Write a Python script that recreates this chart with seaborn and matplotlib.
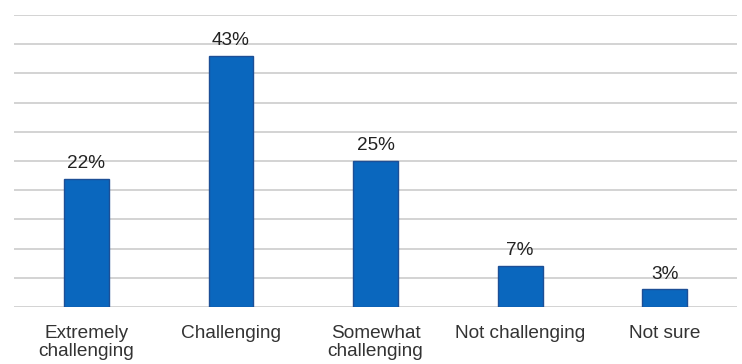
import matplotlib
matplotlib.use("Agg")
import matplotlib.pyplot as plt
import seaborn as sns
import numpy as np

categories = ["Extremely\nchallenging", "Challenging", "Somewhat\nchallenging", "Not challenging", "Not sure"]
values = [22, 43, 25, 7, 3]
labels = ["22%", "43%", "25%", "7%", "3%"]
grid_ticks = list(range(0, 55, 5))

sns.set_theme(style="white")
plt.rcParams['font.family'] = ['Liberation Sans', 'DejaVu Sans']

fig = plt.figure(figsize=(7.42, 3.64), dpi=100)
ax = fig.add_axes([0.0189, 0.1566, 0.9744, 0.8022])

sns.barplot(x=categories, y=values, color="#0A67BE", width=0.31,
            edgecolor="#1D4F96", linewidth=1.0, saturation=1, ax=ax, zorder=3)

ax.set_xlim(-0.5, 4.5)
ax.set_ylim(0, 50)
ax.set_yticks(grid_ticks)
ax.yaxis.grid(True, color="#D3D3D3", linewidth=1.4, zorder=0)
ax.set_axisbelow(True)
ax.tick_params(axis="y", left=False, labelleft=False)
ax.tick_params(axis="x", bottom=False, pad=7, labelsize=13.7, colors="#333333")
for t in ax.get_xticklabels():
    t.set_linespacing(1.1)
for s in ["left", "right", "top", "bottom"]:
    ax.spines[s].set_visible(False)
ax.set_xlabel("")
ax.set_ylabel("")

ax.bar_label(ax.containers[0], labels=labels, padding=5, fontsize=13.7, color="#222222")

fig.savefig("out.png", dpi=100)
